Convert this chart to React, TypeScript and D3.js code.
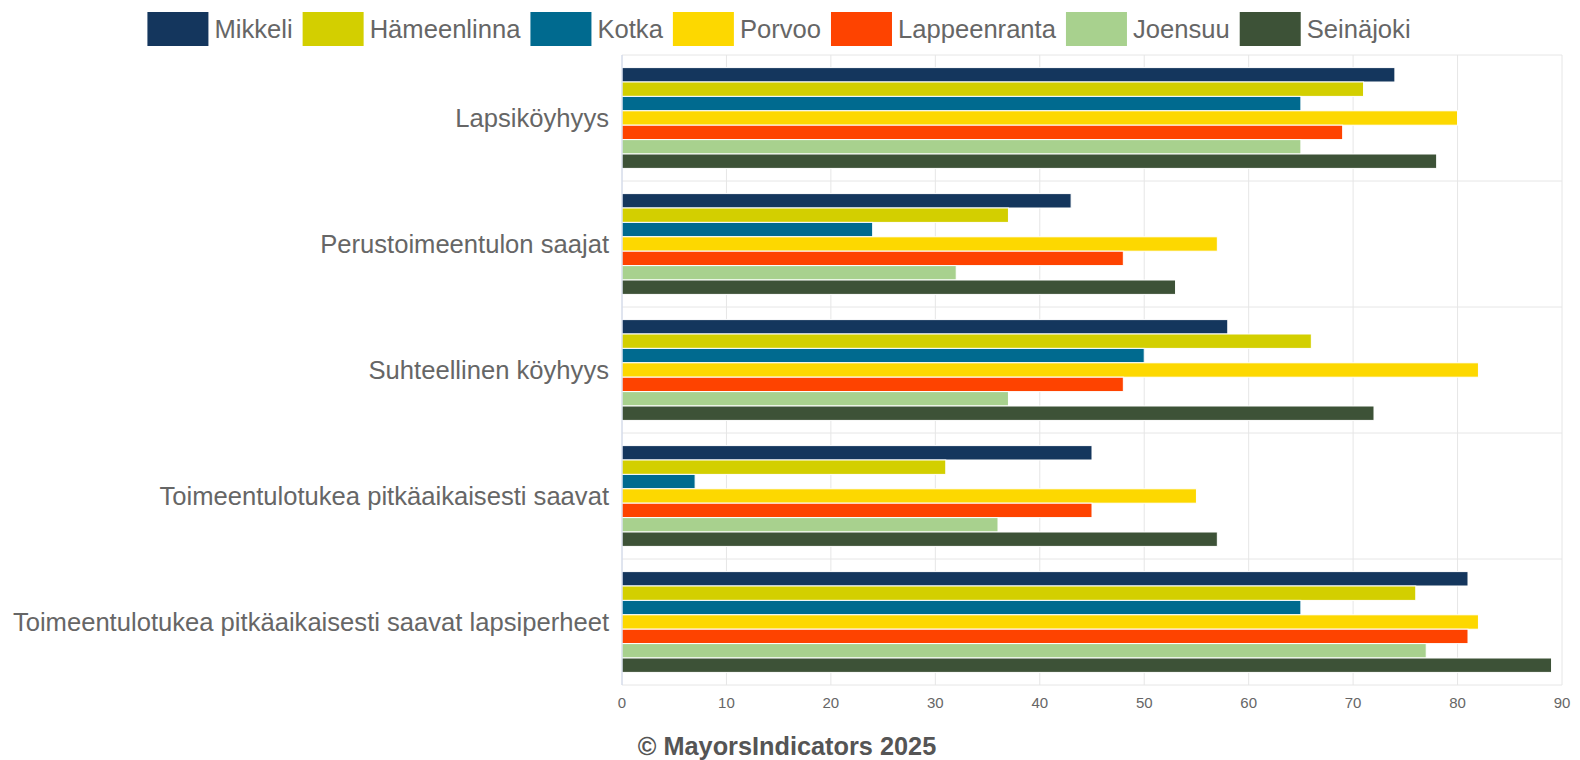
import { scaleBand, scaleLinear } from "d3";

const categories = [
  "Lapsiköyhyys",
  "Perustoimeentulon saajat",
  "Suhteellinen köyhyys",
  "Toimeentulotukea pitkäaikaisesti saavat",
  "Toimeentulotukea pitkäaikaisesti saavat lapsiperheet",
];

const cities = ["Mikkeli", "Hämeenlinna", "Kotka", "Porvoo", "Lappeenranta", "Joensuu", "Seinäjoki"];
const colors = ["#14365d", "#d3cf00", "#006a8f", "#fdd800", "#fe4300", "#a8d18e", "#3d5237"];

// one array per city, in category order
const mikkeli = [74, 43, 58, 45, 81];
const hameenlinna = [71, 37, 66, 31, 76];
const kotka = [65, 24, 50, 7, 65];
const porvoo = [80, 57, 82, 55, 82];
const lappeenranta = [69, 48, 48, 45, 81];
const joensuu = [65, 32, 37, 36, 77];
const seinajoki = [78, 53, 72, 57, 89];
const series = [mikkeli, hameenlinna, kotka, porvoo, lappeenranta, joensuu, seinajoki];

const xTicks = [0, 10, 20, 30, 40, 50, 60, 70, 80, 90];

const FONT = '"Liberation Sans", Arial, sans-serif';
const W = 1580;
const H = 760;

function textWidth(s: string, size: number) {
  const ctx = document.createElement("canvas").getContext("2d")!;
  ctx.font = `${size}px ${FONT}`;
  return ctx.measureText(s).width;
}

export default function App() {
  const plot = { left: 622, right: 1562, top: 55, bottom: 685 };

  const x = scaleLinear().domain([0, 90]).range([plot.left, plot.right]);
  const y = scaleBand().domain(categories).range([plot.top, plot.bottom]).padding(0);
  const bw = y.bandwidth();
  const inner = scaleBand()
    .domain(cities)
    .range([bw * 0.1, bw * 0.9])
    .padding(0);

  // legend layout
  const sq = 61;
  const legendFont = 25.6;
  const gapText = 6;
  const gapItem = 10;
  const widths = cities.map((c) => textWidth(c, legendFont));
  const itemW = widths.map((w) => sq + gapText + w);
  const total = itemW.reduce((a, b) => a + b, 0) + gapItem * (cities.length - 1);
  let cursor = 779 - total / 2;
  const legendPos = itemW.map((w) => {
    const p = cursor;
    cursor += w + gapItem;
    return p;
  });

  return (
    <svg width={W} height={H} style={{ position: "absolute", left: 0, top: 0, background: "#fff" }} fontFamily={FONT}>
      {/* legend */}
      {cities.map((c, i) => (
        <g key={c} transform={`translate(${legendPos[i]},12)`}>
          <rect width={sq} height={34} fill={colors[i]} />
          <text x={sq + gapText} y={17} dy="0.35em" fontSize={legendFont} fill="#666">
            {c}
          </text>
        </g>
      ))}

      {/* vertical grid */}
      {xTicks.map((t) => (
        <line key={t} x1={x(t)} x2={x(t)} y1={plot.top} y2={plot.bottom} stroke="#e6e6e6" />
      ))}
      {/* category grid */}
      {[...categories.map((c) => y(c)!), plot.bottom].map((v, i) => (
        <line key={i} x1={plot.left} x2={plot.right} y1={v} y2={v} stroke="#e6e6e6" />
      ))}

      {/* bars */}
      {categories.map((cat, ci) => (
        <g key={cat} transform={`translate(0,${y(cat)})`}>
          {cities.map((city, si) => (
            <rect
              key={city}
              x={x(0)}
              y={inner(city)}
              width={x(series[si][ci]) - x(0)}
              height={inner.bandwidth()}
              fill={colors[si]}
              stroke="#fff"
              strokeWidth={1}
            />
          ))}
        </g>
      ))}

      {/* category axis line */}
      <line x1={plot.left} x2={plot.left} y1={plot.top} y2={plot.bottom} stroke="#ccd6eb" />

      {/* category labels */}
      {categories.map((cat) => (
        <text
          key={cat}
          x={609}
          y={y(cat)! + bw / 2}
          dy="0.35em"
          textAnchor="end"
          fontSize={25.6}
          fill="#666"
        >
          {cat}
        </text>
      ))}

      {/* value axis labels */}
      {xTicks.map((t) => (
        <text key={t} x={x(t)} y={708} textAnchor="middle" fontSize={15} fill="#666">
          {t}
        </text>
      ))}

      {/* credits */}
      <text x={787} y={755} textAnchor="middle" fontSize={25.3} fontWeight="bold" fill="#555">
        © MayorsIndicators 2025
      </text>
    </svg>
  );
}
